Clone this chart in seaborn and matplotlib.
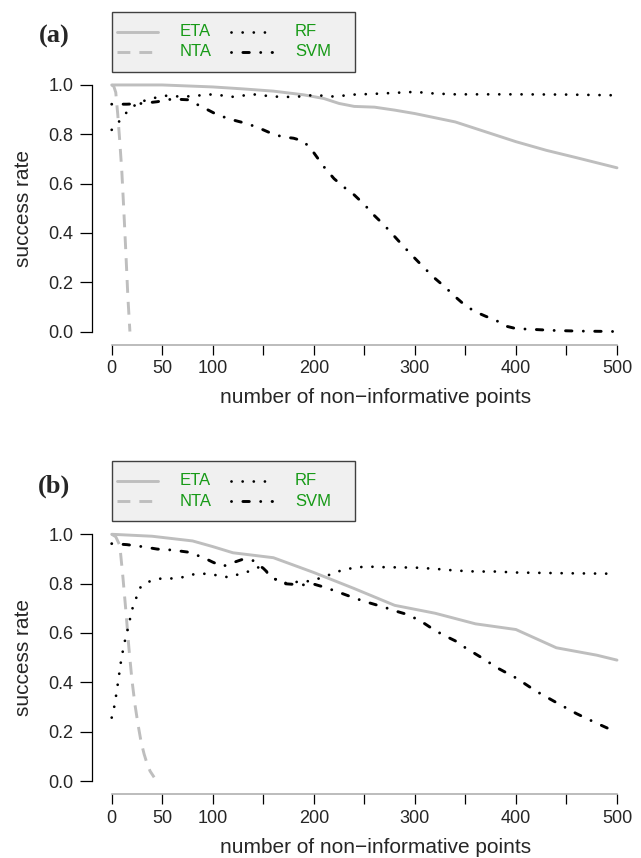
import numpy as np
import pandas as pd
import matplotlib
matplotlib.use("Agg")
import matplotlib.pyplot as plt
import seaborn as sns
from matplotlib.lines import Line2D
from matplotlib.patches import Rectangle

# ---------------- data ----------------
methods = ["ETA", "NTA", "RF", "SVM"]
x_ticks = [0, 50, 100, 150, 200, 250, 300, 350, 400, 450, 500]
x_tick_labels = ["0", "50", "100", "", "200", "", "300", "", "400", "", "500"]
y_ticks = [0.0, 0.2, 0.4, 0.6, 0.8, 1.0]
y_tick_labels = ["0.0", "0.2", "0.4", "0.6", "0.8", "1.0"]
x_label = "number of non\u2212informative points"
y_label = "success rate"
panel_labels = ["(a)", "(b)"]

# panel (a)
a_eta_x = [0, 50, 100, 130, 160, 190, 210, 225, 240, 260, 280, 300, 340, 370, 400, 430, 460, 500]
a_eta_y = [1.0, 1.0, 0.992, 0.984, 0.975, 0.96, 0.945, 0.925, 0.913, 0.91, 0.898, 0.884, 0.85, 0.81, 0.77, 0.735, 0.705, 0.664]
a_nta_x = [0, 2, 4, 6, 8, 10, 12, 14, 16, 18]
a_nta_y = [1.0, 0.995, 0.97, 0.88, 0.77, 0.65, 0.49, 0.32, 0.14, 0.0]
a_rf_x = [0, 8, 15, 25, 35, 45, 55, 70, 85, 100, 120, 140, 160, 180, 200, 220, 240, 260, 280, 300, 320, 340, 360, 380, 400, 450, 500]
a_rf_y = [0.818, 0.855, 0.89, 0.925, 0.94, 0.95, 0.957, 0.952, 0.957, 0.962, 0.952, 0.962, 0.953, 0.951, 0.959, 0.953, 0.961, 0.964, 0.968, 0.972, 0.965, 0.962, 0.962, 0.962, 0.962, 0.961, 0.958]
a_svm_x = [0, 15, 30, 45, 60, 75, 90, 105, 120, 135, 150, 160, 170, 180, 190, 200, 210, 220, 230, 240, 250, 260, 270, 280, 290, 300, 310, 320, 330, 340, 350, 360, 370, 380, 390, 400, 420, 440, 460, 480, 500]
a_svm_y = [0.922, 0.922, 0.925, 0.932, 0.943, 0.94, 0.91, 0.878, 0.858, 0.842, 0.818, 0.80, 0.789, 0.784, 0.772, 0.725, 0.668, 0.62, 0.585, 0.554, 0.515, 0.47, 0.43, 0.385, 0.34, 0.297, 0.255, 0.215, 0.18, 0.141, 0.105, 0.08, 0.062, 0.046, 0.022, 0.012, 0.008, 0.004, 0.002, 0.001, 0.0]

# panel (b)
b_eta_x = [0, 40, 80, 100, 120, 160, 200, 240, 280, 320, 360, 400, 440, 480, 500]
b_eta_y = [1.0, 0.992, 0.973, 0.95, 0.925, 0.905, 0.845, 0.78, 0.712, 0.68, 0.637, 0.614, 0.54, 0.51, 0.49]
b_nta_x = [0, 4, 8, 11, 14, 17, 20, 23, 26, 29, 32, 35, 38, 42]
b_nta_y = [1.0, 0.99, 0.955, 0.83, 0.69, 0.54, 0.41, 0.31, 0.23, 0.16, 0.11, 0.07, 0.04, 0.015]
b_rf_x = [0, 3, 6, 9, 12, 15, 18, 21, 25, 29, 38, 48, 60, 70, 80, 92, 104, 115, 125, 136, 147, 158, 168, 180, 195, 210, 221, 232, 242, 254, 265, 280, 300, 320, 340, 360, 380, 400, 450, 500]
b_rf_y = [0.257, 0.31, 0.393, 0.48, 0.55, 0.60, 0.655, 0.707, 0.75, 0.79, 0.81, 0.82, 0.821, 0.826, 0.837, 0.84, 0.834, 0.826, 0.837, 0.85, 0.869, 0.83, 0.801, 0.806, 0.81, 0.826, 0.846, 0.858, 0.866, 0.869, 0.867, 0.866, 0.865, 0.86, 0.853, 0.849, 0.849, 0.845, 0.842, 0.84]
b_svm_x = [0, 15, 30, 45, 60, 75, 90, 100, 110, 120, 130, 140, 150, 160, 170, 180, 190, 200, 210, 220, 230, 240, 250, 260, 270, 280, 290, 300, 310, 320, 330, 340, 350, 360, 370, 380, 390, 400, 420, 440, 460, 480, 500]
b_svm_y = [0.962, 0.958, 0.95, 0.94, 0.936, 0.928, 0.907, 0.887, 0.87, 0.885, 0.899, 0.893, 0.862, 0.822, 0.80, 0.797, 0.795, 0.798, 0.786, 0.772, 0.757, 0.742, 0.728, 0.716, 0.704, 0.69, 0.678, 0.66, 0.637, 0.61, 0.588, 0.568, 0.54, 0.515, 0.49, 0.462, 0.44, 0.418, 0.364, 0.318, 0.273, 0.234, 0.197]

panels = [
    {"ETA": (a_eta_x, a_eta_y), "NTA": (a_nta_x, a_nta_y), "RF": (a_rf_x, a_rf_y), "SVM": (a_svm_x, a_svm_y)},
    {"ETA": (b_eta_x, b_eta_y), "NTA": (b_nta_x, b_nta_y), "RF": (b_rf_x, b_rf_y), "SVM": (b_svm_x, b_svm_y)},
]

# ---------------- style ----------------
sns.set_style("white")
plt.rcParams["font.family"] = ["Liberation Sans", "DejaVu Sans"]

GRAY = "#bebebe"
LEG_GREEN = "#179a17"
styles = {
    "ETA": dict(color=GRAY, linewidth=2.1, linestyle="-", solid_capstyle="round"),
    "NTA": dict(color=GRAY, linewidth=2.1, linestyle=(0, (4.4, 3.1))),
    "RF": dict(color="black", linewidth=2.0, linestyle=(0, (0.01, 4.0)), dash_capstyle="round"),
    "SVM": dict(color="black", linewidth=2.1, linestyle=(0, (0.01, 3.9, 2.2, 3.9)), dash_capstyle="round"),
}

W, H = 641, 858
fig = plt.figure(figsize=(W / 100, H / 100), dpi=100)


def fx(px):
    return px / W


def fy(py):
    return 1 - py / H


layouts = [
    dict(top=75.1, bottom=341.4, dy=0.0),
    dict(top=524.4, bottom=790.9, dy=449.3),
]
LEFT, RIGHT = 91.5, 637.2

for i, (data, lay) in enumerate(zip(panels, layouts)):
    ax = fig.add_axes([fx(LEFT), fy(lay["bottom"]), (RIGHT - LEFT) / W, (lay["bottom"] - lay["top"]) / H])
    frames = []
    for m in methods:
        xs, ys = data[m]
        frames.append(pd.DataFrame({"points": xs, "rate": ys, "method": m}))
    df = pd.concat(frames, ignore_index=True)
    for m in methods:
        sub = df[df["method"] == m]
        sns.lineplot(data=sub, x="points", y="rate", ax=ax, estimator=None,
                     errorbar=None, legend=False, **styles[m])

    ax.set_xlim(-20, 520)
    ax.set_ylim(-0.04, 1.04)
    ax.set_xlabel("")
    ax.set_ylabel("")
    ax.set_xticks(x_ticks)
    ax.set_xticklabels(x_tick_labels)
    ax.set_yticks(y_ticks)
    ax.set_yticklabels(y_tick_labels)
    for s in ["top", "right"]:
        ax.spines[s].set_visible(False)
    ax.spines["left"].set_bounds(0, 1)
    ax.spines["left"].set_color("black")
    ax.spines["left"].set_linewidth(0.9)
    ax.spines["bottom"].set_bounds(0, 500)
    ax.spines["bottom"].set_color("#aaaaaa")
    ax.spines["bottom"].set_linewidth(1.1)
    ax.spines["bottom"].set_position(("outward", 2.5))
    ax.tick_params(axis="x", direction="out", length=7.2, width=0.9, color="black",
                   labelsize=13, pad=4, bottom=True)
    ax.tick_params(axis="y", direction="out", length=9, width=0.9, color="black",
                   labelsize=13, pad=4, left=True)
    ax.patch.set_alpha(0)

    dy = lay["dy"]
    fig.text(fx(376), fy(398 + dy), x_label, ha="center", va="center", fontsize=15)
    fig.text(fx(23.5), fy((85 + 331.5) / 2 + dy), y_label, ha="center", va="center",
             rotation=90, fontsize=15)
    fig.text(fx(54), fy(36.7 + dy), panel_labels[i], ha="center", va="center", fontsize=19,
             fontweight="bold", family=["Liberation Serif", "DejaVu Serif"])

    fig.add_artist(Rectangle((fx(112), fy(71.7 + dy)), (355 - 112) / W, 60 / H,
                             transform=fig.transFigure, facecolor="#f0f0f0",
                             edgecolor="#404040", linewidth=1.0))
    rows = [31.7, 51.7]
    cols = [(116.7, 158.3, 180), (231, 272, 295)]
    for k, m in enumerate(methods):
        c = k // 2
        r = k % 2
        x0, x1, tx = cols[c]
        yy = fy(rows[r] + dy)
        fig.add_artist(Line2D([fx(x0), fx(x1)], [yy, yy], transform=fig.transFigure, **styles[m]))
        fig.text(fx(tx), yy, m, ha="left", va="center", fontsize=12, color=LEG_GREEN)

fig.savefig("out.png", dpi=100)
